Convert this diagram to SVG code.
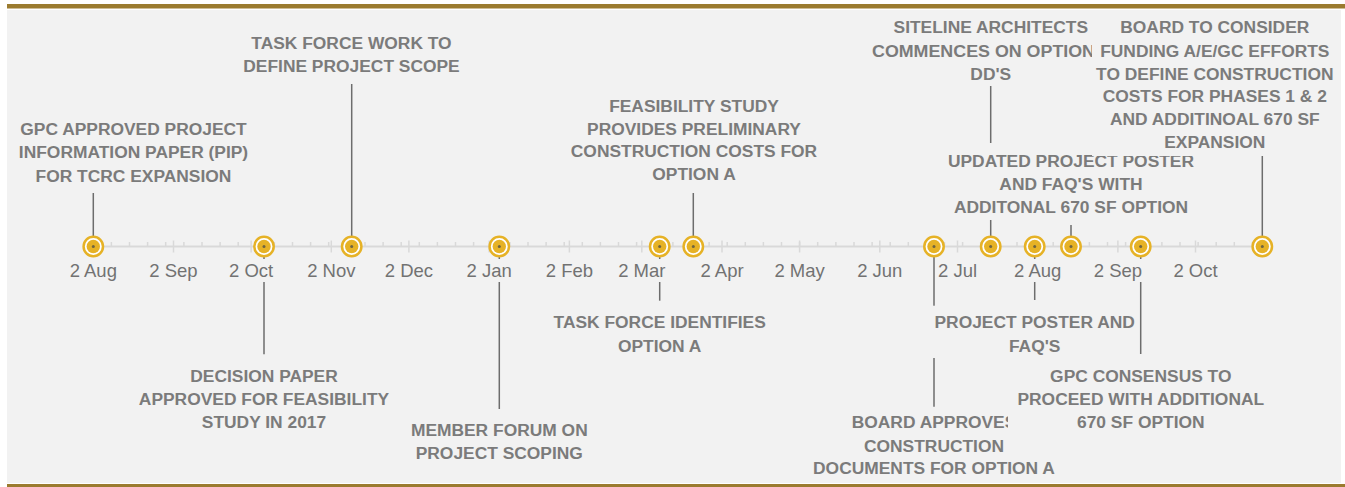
<svg xmlns="http://www.w3.org/2000/svg" width="1345" height="487" viewBox="0 0 1345 487">
  <style>
    .bg { fill: #f2f2f2; }
    .bar { fill: #9b7b2f; }
    .axis { stroke: #d9d9d9; stroke-width: 2; fill: none; }
    .tick { stroke: #d9d9d9; stroke-width: 1.5; fill: none; }
    .conn { stroke: #6d6d6d; stroke-width: 1.5; fill: none; }
    .month { font-family: "Liberation Sans", Arial, sans-serif; font-size: 18.5px; fill: #727272; text-anchor: middle; }
    .lbl { font-family: "Liberation Sans", Arial, sans-serif; font-size: 17.4px; font-weight: bold; fill: #7b7b7b; text-anchor: middle; }
    .cover { fill: #f2f2f2; }
    .ring { fill: #ffffff; stroke: #e6b226; stroke-width: 2.5; }
    .core { fill: #e6b226; }
    .pin { fill: #6f6540; }
  </style>
  <defs>
    <g id="marker">
      <circle class="ring" r="9.7"/>
      <circle class="core" r="6.7"/>
      <circle class="pin" r="1.5"/>
    </g>
  </defs>

  <!-- frame -->
  <rect class="bg" x="7" y="10" width="1334" height="473"/>
  <rect class="bar" x="7" y="4" width="1338" height="4.5"/>
  <rect class="bar" x="7" y="484" width="1338" height="3"/>

  <!-- leader lines from events to their labels -->
  <g id="connectors">
    <path class="conn" d="M93.3 193V246"/>
    <path class="conn" d="M264 246V354.3"/>
    <path class="conn" d="M351.7 84V246"/>
    <path class="conn" d="M499.3 246V409"/>
    <path class="conn" d="M659.7 246V300.7"/>
    <path class="conn" d="M693.3 193V246"/>
    <path class="conn" d="M934 246V406.7"/>
    <path class="conn" d="M990.7 86V246"/>
    <path class="conn" d="M1034.7 246V300"/>
    <path class="conn" d="M1071 225V246"/>
    <path class="conn" d="M1140.7 246V354"/>
    <path class="conn" d="M1262.3 155V246"/>
  </g>

  <!-- time axis: weekly minor ticks, monthly major ticks -->
  <g id="axis">
    <path class="axis" d="M93.3 246.5H1262.3"/>
    <path class="tick" d="M111.4 242V246M129.5 242V246M147.6 242V246M165.7 242V246M183.9 242V246M202 242V246M220.1 242V246M238.2 242V246M256.3 242V246M274.4 242V246M292.5 242V246M310.6 242V246M328.7 242V246M346.9 242V246M365 242V246M383.1 242V246M401.2 242V246M419.3 242V246M437.4 242V246M455.5 242V246M473.6 242V246M491.7 242V246M509.9 242V246M528 242V246M546.1 242V246M564.2 242V246M582.3 242V246M600.4 242V246M618.5 242V246M636.6 242V246M654.7 242V246M672.9 242V246M691 242V246M709.1 242V246M727.2 242V246M745.3 242V246M763.4 242V246M781.5 242V246M799.6 242V246M817.7 242V246M835.9 242V246M854 242V246M872.1 242V246M890.2 242V246M908.3 242V246M926.4 242V246M944.5 242V246M962.6 242V246M980.7 242V246M998.9 242V246M1017 242V246M1035.1 242V246M1053.2 242V246M1071.3 242V246M1089.4 242V246M1107.5 242V246M1125.6 242V246M1143.7 242V246M1161.9 242V246M1180 242V246M1198.1 242V246M1216.2 242V246M1234.3 242V246M1252.4 242V246"/>
    <path class="tick" d="M173.5 240.5V252.5M251.1 240.5V252.5M331.3 240.5V252.5M408.9 240.5V252.5M489.2 240.5V252.5M569.4 240.5V252.5M641.8 240.5V252.5M722 240.5V252.5M799.6 240.5V252.5M879.8 240.5V252.5M957.5 240.5V252.5M1037.7 240.5V252.5M1117.9 240.5V252.5M1195.5 240.5V252.5"/>
    <g id="month-labels">
      <rect class="cover" x="68" y="259" width="51" height="23"/>
      <text class="month" x="93.3" y="277">2 Aug</text>
      <rect class="cover" x="148" y="259" width="51" height="23"/>
      <text class="month" x="173.5" y="277">2 Sep</text>
      <rect class="cover" x="228" y="259" width="47" height="23"/>
      <text class="month" x="251.1" y="277">2 Oct</text>
      <rect class="cover" x="306" y="259" width="51" height="23"/>
      <text class="month" x="331.3" y="277">2 Nov</text>
      <rect class="cover" x="384" y="259" width="51" height="23"/>
      <text class="month" x="408.9" y="277">2 Dec</text>
      <rect class="cover" x="466" y="259" width="47" height="23"/>
      <text class="month" x="489.2" y="277">2 Jan</text>
      <rect class="cover" x="545" y="259" width="49" height="23"/>
      <text class="month" x="569.4" y="277">2 Feb</text>
      <rect class="cover" x="617" y="259" width="50" height="23"/>
      <text class="month" x="641.8" y="277">2 Mar</text>
      <rect class="cover" x="699" y="259" width="46" height="23"/>
      <text class="month" x="722" y="277">2 Apr</text>
      <rect class="cover" x="774" y="259" width="52" height="23"/>
      <text class="month" x="799.6" y="277">2 May</text>
      <rect class="cover" x="857" y="259" width="46" height="23"/>
      <text class="month" x="879.8" y="277">2 Jun</text>
      <rect class="cover" x="937.5" y="259" width="40" height="23"/>
      <text class="month" x="957.5" y="277">2 Jul</text>
      <rect class="cover" x="1012.5" y="259" width="51" height="23"/>
      <text class="month" x="1037.7" y="277">2 Aug</text>
      <rect class="cover" x="1092.5" y="259" width="51" height="23"/>
      <text class="month" x="1117.9" y="277">2 Sep</text>
      <rect class="cover" x="1172.5" y="259" width="46" height="23"/>
      <text class="month" x="1195.5" y="277">2 Oct</text>
    </g>
  </g>

  <!-- event markers -->
  <g id="markers">
    <use href="#marker" x="93.3" y="246.5"/>
    <use href="#marker" x="264" y="246.5"/>
    <use href="#marker" x="351.7" y="246.5"/>
    <use href="#marker" x="499.3" y="246.5"/>
    <use href="#marker" x="659.7" y="246.5"/>
    <use href="#marker" x="693.3" y="246.5"/>
    <use href="#marker" x="934" y="246.5"/>
    <use href="#marker" x="990.7" y="246.5"/>
    <use href="#marker" x="1034.7" y="246.5"/>
    <use href="#marker" x="1071" y="246.5"/>
    <use href="#marker" x="1140.7" y="246.5"/>
    <use href="#marker" x="1262.3" y="246.5"/>
  </g>

  <!-- event labels, in date order -->
  <g id="ev-pip">
    <text class="lbl" x="133.5" y="135">GPC APPROVED PROJECT</text>
    <text class="lbl" x="133.5" y="158.3">INFORMATION PAPER (PIP)</text>
    <text class="lbl" x="133.5" y="181.7">FOR TCRC EXPANSION</text>
  </g>
  <g id="ev-decision-paper">
    <text class="lbl" x="264" y="381.7">DECISION PAPER</text>
    <text class="lbl" x="264" y="405">APPROVED FOR FEASIBILITY</text>
    <text class="lbl" x="264" y="428.3">STUDY IN 2017</text>
  </g>
  <g id="ev-task-force-scope">
    <text class="lbl" x="351.5" y="49">TASK FORCE WORK TO</text>
    <text class="lbl" x="351.5" y="72.3">DEFINE PROJECT SCOPE</text>
  </g>
  <g id="ev-member-forum">
    <text class="lbl" x="499.3" y="436">MEMBER FORUM ON</text>
    <text class="lbl" x="499.3" y="459">PROJECT SCOPING</text>
  </g>
  <g id="ev-option-a">
    <text class="lbl" x="659.7" y="328.3">TASK FORCE IDENTIFIES</text>
    <text class="lbl" x="659.7" y="351.7">OPTION A</text>
  </g>
  <g id="ev-feasibility">
    <text class="lbl" x="694" y="111.7">FEASIBILITY STUDY</text>
    <text class="lbl" x="694" y="134.5">PROVIDES PRELIMINARY</text>
    <text class="lbl" x="694" y="157">CONSTRUCTION COSTS FOR</text>
    <text class="lbl" x="694" y="179.5">OPTION A</text>
  </g>
  <g id="ev-board-approves">
    <text class="lbl" x="934" y="428.3">BOARD APPROVES</text>
    <text class="lbl" x="934" y="451.7">CONSTRUCTION</text>
    <text class="lbl" x="934" y="474">DOCUMENTS FOR OPTION A</text>
  </g>
  <g id="ev-siteline">
    <text class="lbl" x="990.8" y="33.3">SITELINE ARCHITECTS</text>
    <text class="lbl" x="872" y="56.7" style="text-anchor:start" textLength="223" lengthAdjust="spacingAndGlyphs">COMMENCES ON OPTION</text>
    <text class="lbl" x="990.8" y="80">DD'S</text>
  </g>
  <g id="ev-poster">
    <rect class="cover" x="927" y="305.7" width="211" height="52.3"/>
    <text class="lbl" x="1034.7" y="328.3">PROJECT POSTER AND</text>
    <text class="lbl" x="1034.7" y="351.7">FAQ'S</text>
  </g>
  <g id="ev-updated-poster">
    <rect class="cover" x="940" y="143" width="262" height="77"/>
    <text class="lbl" x="1071" y="166.7">UPDATED PROJECT POSTER</text>
    <text class="lbl" x="1071" y="190">AND FAQ'S WITH</text>
    <text class="lbl" x="1071" y="213.3">ADDITONAL 670 SF OPTION</text>
  </g>
  <g id="ev-gpc-consensus">
    <rect class="cover" x="1008" y="358" width="266" height="77"/>
    <text class="lbl" x="1140.8" y="381.7">GPC CONSENSUS TO</text>
    <text class="lbl" x="1140.8" y="405">PROCEED WITH ADDITIONAL</text>
    <text class="lbl" x="1140.8" y="428.3">670 SF OPTION</text>
  </g>
  <g id="ev-board-consider">
    <rect class="cover" x="1092" y="12" width="246" height="144"/>
    <text class="lbl" x="1214.8" y="33.3">BOARD TO CONSIDER</text>
    <text class="lbl" x="1214.8" y="56.7">FUNDING A/E/GC EFFORTS</text>
    <text class="lbl" x="1214.8" y="80">TO DEFINE CONSTRUCTION</text>
    <text class="lbl" x="1214.8" y="102.3">COSTS FOR PHASES 1 &amp; 2</text>
    <text class="lbl" x="1214.8" y="125.3">AND ADDITINOAL 670 SF</text>
    <text class="lbl" x="1214.8" y="148.3">EXPANSION</text>
  </g>
</svg>
